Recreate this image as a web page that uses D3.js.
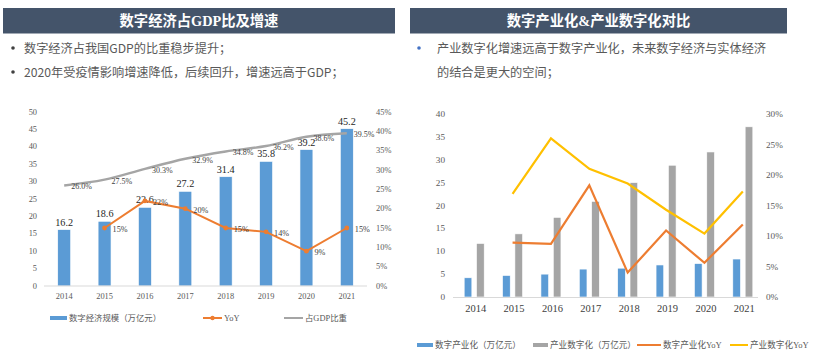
<!DOCTYPE html>
<html>
<head>
<meta charset="utf-8">
<script src="https://cdn.jsdelivr.net/npm/d3@7"></script>
<style>
  body { margin: 0; background: #fff; }
  svg { display: block; }
</style>
</head>
<body>
<div id="chart"></div>
<script>
// ---- data ----
const years = ["2014", "2015", "2016", "2017", "2018", "2019", "2020", "2021"];

// left: 数字经济规模 / YoY / 占GDP比重
const digitalEconomy = [16.2, 18.6, 22.6, 27.2, 31.4, 35.8, 39.2, 45.2];
const economyYoY = [null, 15, 22, 20, 15, 14, 9, 15];
const gdpShare = [26.0, 27.5, 30.3, 32.9, 34.8, 36.2, 38.6, 39.5];
const leftTicks = [0, 5, 10, 15, 20, 25, 30, 35, 40, 45, 50];
const leftPctTicks = [0, 5, 10, 15, 20, 25, 30, 35, 40, 45];

// right: 数字产业化 / 产业数字化
const digitalIndustry = [4.2, 4.7, 5.0, 6.1, 6.3, 7.0, 7.3, 8.3];
const industryDigital = [11.7, 13.8, 17.4, 20.9, 25.0, 28.8, 31.7, 37.2];
const digitalIndustryYoY = [null, 8.9, 8.7, 18.3, 4.0, 10.9, 5.6, 11.9];
const industryDigitalYoY = [null, 16.9, 26.0, 21.0, 18.6, 14.3, 10.4, 17.3];
const rightTicks = [0, 5, 10, 15, 20, 25, 30, 35, 40];
const rightPctTicks = [0, 5, 10, 15, 20, 25, 30];

const BLUE = "#5B9BD5", ORANGE = "#ED7D31", GRAY = "#A5A5A5", YELLOW = "#FFC000";
const HEADER = "#44546A", TEXT = "#595959", AXIS = "#D9D9D9";
const SERIF = "'Liberation Serif', 'Times New Roman', 'Noto Sans CJK SC', serif";
const SANS = "'Noto Sans CJK SC', 'Noto Sans', sans-serif";

const svg = d3.select("#chart").append("svg")
    .attr("width", 825)
    .attr("height", 352);

// ---- headers & bullets ----
function header(x0, x1, title) {
    svg.append("rect")
        .attr("x", x0).attr("y", 8)
        .attr("width", x1 - x0).attr("height", 25.5)
        .attr("fill", HEADER);
    svg.append("text")
        .attr("x", (x0 + x1) / 2).attr("y", 21)
        .attr("text-anchor", "middle")
        .attr("dominant-baseline", "central")
        .style("font-family", SERIF)
        .style("font-weight", "bold")
        .style("font-size", "14.3px")
        .attr("fill", "#fff")
        .text(title);
}
header(3, 395, "数字经济占GDP比及增速");
header(410, 787, "数字产业化&产业数字化对比");

function line(x, y, t) {
    svg.append("text")
        .attr("x", x).attr("y", y)
        .attr("dominant-baseline", "central")
        .style("font-family", SANS)
        .style("font-size", "12.2px")
        .attr("fill", TEXT)
        .text(t);
}
function bullet(x, y, color) {
    svg.append("circle").attr("cx", x).attr("cy", y).attr("r", 1.8).attr("fill", color);
}
bullet(13, 48, "#404040");
line(24, 48, "数字经济占我国GDP的比重稳步提升；");
bullet(13, 72, "#404040");
line(24, 72, "2020年受疫情影响增速降低，后续回升，增速远高于GDP；");
bullet(419, 48, "#4472C4");
line(437, 48, "产业数字化增速远高于数字产业化，未来数字经济与实体经济");
line(437, 72, "的结合是更大的空间；");

// ---- left chart ----
const gL = svg.append("g");
const xL = d3.scaleBand().domain(years).range([44, 367]);
const yL = d3.scaleLinear().domain([0, 50]).range([286, 112]);
const yLp = d3.scaleLinear().domain([0, 45]).range([286, 112]);
const cxL = d => xL(d) + xL.bandwidth() / 2;

gL.selectAll(".ytl").data(leftTicks).join("text")
    .attr("x", 37).attr("y", d => yL(d))
    .attr("text-anchor", "end").attr("dominant-baseline", "central")
    .style("font-family", SERIF).style("font-size", "8.4px").attr("fill", TEXT)
    .text(d => d);
gL.selectAll(".ytr").data(leftPctTicks).join("text")
    .attr("x", 376).attr("y", d => yLp(d))
    .attr("dominant-baseline", "central")
    .style("font-family", SERIF).style("font-size", "8.4px").attr("fill", TEXT)
    .text(d => d + "%");

const bwL = xL.bandwidth() * 0.32;
gL.selectAll(".bar").data(digitalEconomy).join("rect")
    .attr("x", (d, i) => cxL(years[i]) - bwL / 2)
    .attr("y", d => yL(d))
    .attr("width", bwL)
    .attr("height", d => yL(0) - yL(d))
    .attr("fill", BLUE)
    .attr("stroke", "#fff").attr("stroke-width", 0.6);

gL.append("line")
    .attr("x1", 44).attr("x2", 367).attr("y1", 286).attr("y2", 286)
    .attr("stroke", AXIS);

gL.selectAll(".xl").data(years).join("text")
    .attr("x", d => cxL(d)).attr("y", 296)
    .attr("text-anchor", "middle").attr("dominant-baseline", "central")
    .style("font-family", SERIF).style("font-size", "8.4px").attr("fill", TEXT)
    .text(d => d);

gL.selectAll(".bl").data(digitalEconomy).join("text")
    .attr("x", (d, i) => cxL(years[i])).attr("y", d => yL(d) - 4)
    .attr("text-anchor", "middle")
    .style("font-family", SERIF).style("font-size", "10.2px").attr("fill", "#262626")
    .text(d => d.toFixed(1));

const shareLine = d3.line()
    .x((d, i) => cxL(years[i]))
    .y(d => yLp(d))
    .curve(d3.curveMonotoneX);
gL.append("path").datum(gdpShare)
    .attr("d", shareLine)
    .attr("fill", "none").attr("stroke", GRAY).attr("stroke-width", 2.4);

const yoyPts = economyYoY.map((v, i) => ({ year: years[i], v })).filter(d => d.v !== null);
gL.append("path").datum(yoyPts)
    .attr("d", d3.line().x(d => cxL(d.year)).y(d => yLp(d.v)))
    .attr("fill", "none").attr("stroke", ORANGE).attr("stroke-width", 2);
gL.selectAll(".dot").data(yoyPts).join("circle")
    .attr("cx", d => cxL(d.year)).attr("cy", d => yLp(d.v)).attr("r", 2.4)
    .attr("fill", ORANGE);

gL.selectAll(".sl").data(gdpShare).join("text")
    .attr("x", (d, i) => cxL(years[i]) + 7).attr("y", d => yLp(d) + 1.5)
    .attr("dominant-baseline", "central")
    .style("font-family", SERIF).style("font-size", "8px").attr("fill", "#404040")
    .text(d => d.toFixed(1) + "%");
gL.selectAll(".yl").data(yoyPts).join("text")
    .attr("x", d => cxL(d.year) + 8).attr("y", d => yLp(d.v) + 1.5)
    .attr("dominant-baseline", "central")
    .style("font-family", SERIF).style("font-size", "8.2px").attr("fill", "#404040")
    .text(d => d.v + "%");

// left legend
function legendText(x, y, t, size) {
    svg.append("text").attr("x", x).attr("y", y)
        .attr("dominant-baseline", "central")
        .style("font-family", SERIF).style("font-size", size).attr("fill", TEXT)
        .text(t);
}
svg.append("rect").attr("x", 50).attr("y", 316).attr("width", 17).attr("height", 4).attr("fill", BLUE);
legendText(69, 318, "数字经济规模（万亿元）", "8.4px");
svg.append("line").attr("x1", 203).attr("x2", 222).attr("y1", 318).attr("y2", 318)
    .attr("stroke", ORANGE).attr("stroke-width", 2);
svg.append("circle").attr("cx", 212.5).attr("cy", 318).attr("r", 2.2).attr("fill", ORANGE);
legendText(224, 318, "YoY", "8.4px");
svg.append("line").attr("x1", 284).attr("x2", 303).attr("y1", 318).attr("y2", 318)
    .attr("stroke", GRAY).attr("stroke-width", 2);
legendText(305, 318, "占GDP比重", "8.4px");

// ---- right chart ----
const gR = svg.append("g");
const xR = d3.scaleBand().domain(years).range([455, 762]);
const yR = d3.scaleLinear().domain([0, 40]).range([297, 114]);
const yRp = d3.scaleLinear().domain([0, 30]).range([297, 114]);
const cxR = d => xR(d) + xR.bandwidth() / 2;
const sub = d3.scaleBand().domain(["a", "b"]).range([-10, 10]).paddingInner(0.38);

gR.selectAll(".ytl").data(rightTicks).join("text")
    .attr("x", 445).attr("y", d => yR(d))
    .attr("text-anchor", "end").attr("dominant-baseline", "central")
    .style("font-family", SERIF).style("font-size", "9.2px").attr("fill", TEXT)
    .text(d => d);
gR.selectAll(".ytr").data(rightPctTicks).join("text")
    .attr("x", 766).attr("y", d => yRp(d))
    .attr("dominant-baseline", "central")
    .style("font-family", SERIF).style("font-size", "9.2px").attr("fill", TEXT)
    .text(d => d + "%");

gR.selectAll(".b1").data(digitalIndustry).join("rect")
    .attr("x", (d, i) => cxR(years[i]) + sub("a"))
    .attr("y", d => yR(d))
    .attr("width", sub.bandwidth())
    .attr("height", d => yR(0) - yR(d))
    .attr("fill", BLUE).attr("stroke", "#fff").attr("stroke-width", 0.6);
gR.selectAll(".b2").data(industryDigital).join("rect")
    .attr("x", (d, i) => cxR(years[i]) + sub("b"))
    .attr("y", d => yR(d))
    .attr("width", sub.bandwidth())
    .attr("height", d => yR(0) - yR(d))
    .attr("fill", GRAY).attr("stroke", "#fff").attr("stroke-width", 0.6);

gR.append("line")
    .attr("x1", 453).attr("x2", 758).attr("y1", 297.5).attr("y2", 297.5)
    .attr("stroke", AXIS);

gR.selectAll(".xl").data(years).join("text")
    .attr("x", d => cxR(d) + 1.5).attr("y", 308)
    .attr("text-anchor", "middle").attr("dominant-baseline", "central")
    .style("font-family", SERIF).style("font-size", "10.5px").attr("fill", "#404040")
    .text(d => d);

function yoyLine(vals, color) {
    const pts = vals.map((v, i) => ({ year: years[i], v })).filter(d => d.v !== null);
    gR.append("path").datum(pts)
        .attr("d", d3.line().x(d => cxR(d.year)).y(d => yRp(d.v)))
        .attr("fill", "none").attr("stroke", color).attr("stroke-width", 2.2);
}
yoyLine(digitalIndustryYoY, ORANGE);
yoyLine(industryDigitalYoY, YELLOW);

// right legend
svg.append("rect").attr("x", 417).attr("y", 343).attr("width", 16).attr("height", 4).attr("fill", BLUE);
legendText(435, 345, "数字产业化（万亿元）", "8.6px");
svg.append("rect").attr("x", 533).attr("y", 343).attr("width", 15).attr("height", 4).attr("fill", GRAY);
legendText(550, 345, "产业数字化（万亿元）", "8.6px");
svg.append("line").attr("x1", 637).attr("x2", 661).attr("y1", 345).attr("y2", 345)
    .attr("stroke", ORANGE).attr("stroke-width", 2);
legendText(663, 345, "数字产业化YoY", "8.6px");
svg.append("line").attr("x1", 730).attr("x2", 748).attr("y1", 345).attr("y2", 345)
    .attr("stroke", YELLOW).attr("stroke-width", 2);
legendText(750, 345, "产业数字化YoY", "8.6px");
</script>
</body>
</html>
